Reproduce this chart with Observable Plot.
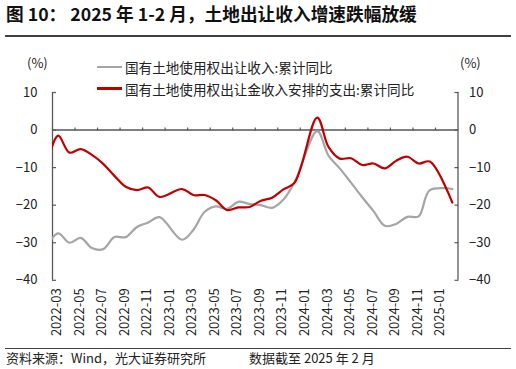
<!DOCTYPE html>
<html>
<head>
<meta charset="utf-8">
<script src="https://cdn.jsdelivr.net/npm/d3@7"></script>
<script src="https://cdn.jsdelivr.net/npm/@observablehq/plot@0.6"></script>
<style>
  html, body { margin: 0; padding: 0; background: #fff; }
  #wrap { position: relative; width: 516px; height: 369px; overflow: hidden; background: #fff;
          font-family: "Noto Sans CJK SC", "Noto Sans", sans-serif; color: #000; }
  .abs { position: absolute; white-space: nowrap; }
  #title { left: 6px; top: 3px; font-size: 17.7px; font-weight: bold; line-height: 20px; color: #111; }
  .rule { position: absolute; left: 5px; width: 506px; height: 1.3px; background: #404040; }
  .unit { font-size: 13px; line-height: 14px; color: #222; }
  .leg { display: flex; align-items: center; font-size: 13.6px; line-height: 14px; color: #222; }
  .leg .sw { width: 25px; height: 2.2px; margin-right: 3px; }
  .foot { font-size: 13px; line-height: 14px; color: #222; }
  #chart { position: absolute; left: 0; top: 0; }
</style>
</head>
<body>
<div id="wrap">
  <div id="title" class="abs">图 10： 2025 年 1-2 月，土地出让收入增速跌幅放缓</div>
  <div class="rule" style="top:35.4px"></div>
  <div id="chart"></div>
  <div class="abs unit" style="left:27px; top:56px">(%)</div>
  <div class="abs unit" style="left:460px; top:56px">(%)</div>
  <div id="legend"></div>
  <div class="rule" style="top:347.6px"></div>
  <div class="abs foot" style="left:6px; top:351px">资料来源：Wind，光大证券研究所</div>
  <div class="abs foot" style="left:249px; top:351px">数据截至 2025 年 2 月</div>
</div>
<script>
// Monthly cumulative YoY (%); January is not published separately (null)
const months = [
  "2022-02","2022-03","2022-04","2022-05","2022-06","2022-07","2022-08","2022-09","2022-10","2022-11","2022-12",
  "2023-01","2023-02","2023-03","2023-04","2023-05","2023-06","2023-07","2023-08","2023-09","2023-10","2023-11","2023-12",
  "2024-01","2024-02","2024-03","2024-04","2024-05","2024-06","2024-07","2024-08","2024-09","2024-10","2024-11","2024-12",
  "2025-01","2025-02"
];
const landRevenue = [
  -31.0, -27.5, -30.0, -28.7, -31.4, -31.7, -28.5, -28.5, -25.8, -24.6, -23.2,
  null, -29.2, -26.6, -21.8, -20.3, -21.0, -19.1, -19.7, -20.0, -20.7, -18.5, -13.8,
  null, -0.3, -6.8, -10.2, -14.0, -17.9, -21.6, -25.5, -25.0, -23.1, -23.0, -16.0,
  null, -15.7
];
const landSpending = [
  -9.0, -1.5, -6.0, -5.1, -6.6, -9.0, -12.2, -15.1, -16.0, -15.3, -17.8,
  null, -15.7, -17.3, -17.3, -18.7, -21.3, -20.6, -20.5, -18.8, -18.0, -15.8, -14.0,
  null, 3.3, -4.5, -7.6, -7.5, -9.3, -8.9, -10.2, -8.2, -7.1, -8.9, -8.4,
  null, -19.3
];
const seriesNames = ["国有土地使用权出让收入:累计同比", "国有土地使用权出让金收入安排的支出:累计同比"];
const seriesColors = ["#a5a5a5", "#c00000"];
const yTicks = [10, 0, -10, -20, -30, -40];
const xTicks = d3.range(0, 35, 2); // axis positions of 2022-03 ... 2025-01
const xDomain = [0, 36];          // 2022-03 start ... 2025-03 start (month bands)
const yDomain = [-40, 10];

// rows: each month sits at the centre of its band (index offset from 2022-03)
const rows = months.map((m, i) => ({month: m, pos: i - 0.5, rev: landRevenue[i], exp: landSpending[i]}));

const W = 516, H = 369, mTop = 92, mBottom = 89.2, mLeft = 52, mRight = 58.5;
const plotH = H - mTop - mBottom;
const zeroDy = plotH * (yDomain[1] - 0) / (yDomain[1] - yDomain[0]);

const chart = Plot.plot({
  width: W, height: H,
  marginTop: mTop, marginBottom: mBottom, marginLeft: mLeft, marginRight: mRight,
  style: {background: "transparent", fontFamily: "'Noto Sans CJK SC', 'Noto Sans', sans-serif", fontSize: "13px", color: "#222", overflow: "visible"},
  x: {domain: xDomain, axis: null},
  y: {domain: yDomain, axis: null},
  marks: [
    Plot.ruleY([0], {stroke: "#808080", strokeWidth: 2}),
    Plot.axisX({ticks: xTicks, anchor: "top", tickSize: 3, text: null, dy: zeroDy, stroke: "#595959", strokeWidth: 1.2, label: null}),
    Plot.axisX({ticks: xTicks, anchor: "bottom", tickSize: 0, tickPadding: 8, tickRotate: -90,
                tickFormat: t => months[t + 1], dx: 4.5, label: null, fontSize: 13}),
    Plot.axisY({ticks: yTicks, anchor: "left", tickSize: 0, tickPadding: 15, label: null, fontSize: 13}),
    Plot.axisY({ticks: yTicks, anchor: "left", tickSize: 4, text: null, dx: 4, label: null, stroke: "#595959", strokeWidth: 1.2}),
    Plot.axisY({ticks: yTicks, anchor: "right", tickSize: 0, tickPadding: 11, label: null, fontSize: 13}),
    Plot.axisY({ticks: yTicks, anchor: "right", tickSize: 4, text: null, dx: -4, label: null, stroke: "#595959", strokeWidth: 1.2}),
    Plot.ruleX(xDomain, {stroke: "#595959", strokeWidth: 1.3}),
    Plot.line(rows.filter(d => d.rev != null), {x: "pos", y: "rev", curve: "catmull-rom", stroke: seriesColors[0], strokeWidth: 2.2, clip: true}),
    Plot.line(rows.filter(d => d.exp != null), {x: "pos", y: "exp", curve: "catmull-rom", stroke: seriesColors[1], strokeWidth: 2.2, clip: true})
  ]
});
document.getElementById("chart").appendChild(chart);

// legend
const legend = document.getElementById("legend");
const legTops = [60, 81.5];
seriesNames.forEach((name, i) => {
  const item = document.createElement("div");
  item.className = "abs leg";
  item.style.left = "97px";
  item.style.top = legTops[i] + "px";
  const sw = document.createElement("span");
  sw.className = "sw";
  sw.style.background = seriesColors[i];
  const tx = document.createElement("span");
  tx.textContent = name;
  item.appendChild(sw);
  item.appendChild(tx);
  legend.appendChild(item);
});
</script>
</body>
</html>
